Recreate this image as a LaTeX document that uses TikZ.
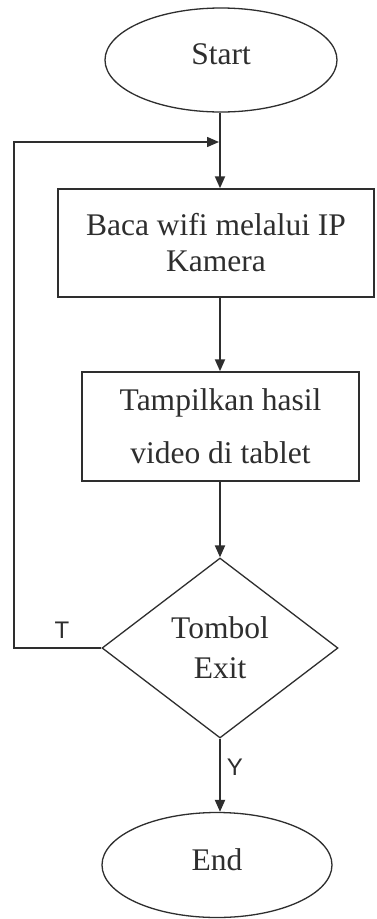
\documentclass[tikz,border=0pt]{standalone}
\usepackage{fontspec}
\setmainfont{Liberation Serif}
\newfontfamily\labfont{Liberation Sans}
\usetikzlibrary{shapes.geometric,arrows.meta}
\definecolor{ink}{HTML}{2E2E2E}
\begin{document}
\begin{tikzpicture}[x=1pt,y=-1pt,
  every node/.style={text=ink},
  term/.style={ellipse,draw=ink,line width=1.3pt,inner sep=0pt,font=\fontsize{31.5}{36}\selectfont},
  procbox/.style={rectangle,draw=ink,line width=1.5pt,inner sep=0pt,align=center},
  decis/.style={diamond,draw=ink,line width=1.3pt,inner sep=0pt,aspect=1.31,align=center,font=\fontsize{31.5}{40}\selectfont},
  arr/.style={draw=ink,line width=2pt,-{Triangle[length=12pt,width=10pt]}},
  loopline/.style={draw=ink,line width=1.5pt,-{Triangle[length=12pt,width=10pt]}},
  lab/.style={font=\labfont\fontsize{24}{24}\selectfont,inner sep=0pt}]
\useasboundingbox (0,0) rectangle (376,919);
\fill[white] (0,0) rectangle (376,919);
\node[term,minimum width=232pt,minimum height=104pt] (start) at (221,60) {\raisebox{12pt}{Start}};
\node[procbox,minimum width=316pt,minimum height=108pt,font=\fontsize{31.5}{36}\selectfont] (box1) at (216,243) {Baca wifi melalui IP\\Kamera};
\node[procbox,minimum width=277pt,minimum height=109pt,font=\fontsize{31.5}{53}\selectfont] (box2) at (220.5,426.5) {Tampilkan hasil\\video di tablet};
\node[decis,minimum width=236pt,minimum height=180pt] (dec) at (220,648) {\raisebox{6pt}{\parbox{100pt}{\centering Tombol\\Exit}}};
\node[term,minimum width=230pt,minimum height=105pt] (end) at (217,865) {\raisebox{10pt}{End}};
\coordinate (lc) at (14,648);
\coordinate (jn) at (219,142);
\draw[arr] (start.south -| dec.north) -- (box1.north -| dec.north);
\draw[arr] (box1.south -| dec.north) -- (box2.north -| dec.north);
\draw[arr] (box2.south -| dec.north) -- (dec.north);
\draw[arr] (dec.south) -- (dec.south |- end.north);
\draw[loopline] (dec.west) -- (dec.west -| lc) |- (jn);
\node[lab] (tlab) at (62,630) {T};
\node[lab] (ylab) at (235,767) {Y};
\end{tikzpicture}
\end{document}
